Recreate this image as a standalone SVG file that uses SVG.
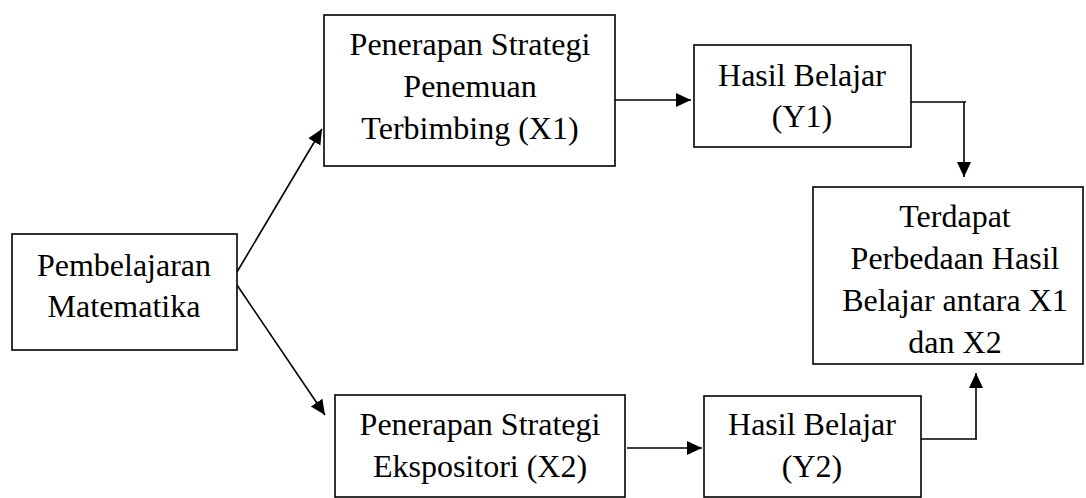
<svg xmlns="http://www.w3.org/2000/svg" width="1086" height="498" viewBox="0 0 1086 498">
<defs>
<style>
.box{fill:#fff;stroke:#000;stroke-width:1.6}
.t{font-family:"Liberation Serif","Times New Roman",serif;font-size:32px;fill:#000;text-anchor:middle}
.c{fill:none;stroke:#000;stroke-width:1.6}
</style>
<marker id="ah" markerUnits="userSpaceOnUse" markerWidth="16" markerHeight="16" refX="15" refY="7" orient="auto">
<path d="M0,0 L15,7 L0,14 z" fill="#000"/>
</marker>
</defs>
<rect width="1086" height="498" fill="#fff"/>
<g id="connectors">
<line class="c" x1="237" y1="272" x2="322" y2="129" marker-end="url(#ah)"/>
<line class="c" x1="237" y1="285" x2="325" y2="415" marker-end="url(#ah)"/>
<line class="c" x1="615" y1="100" x2="691" y2="100" marker-end="url(#ah)"/>
<polyline class="c" points="911,102 966,102"/>
<polyline class="c" points="964,102 964,177" marker-end="url(#ah)"/>
<line class="c" x1="627" y1="448" x2="702" y2="448" marker-end="url(#ah)"/>
<polyline class="c" points="921,439 977,439"/>
<polyline class="c" points="976,439 976,373" marker-end="url(#ah)"/>
</g>
<g id="pembelajaran">
<rect class="box" x="12" y="234" width="225" height="116"/>
<text class="t" x="124" y="276">Pembelajaran</text>
<text class="t" x="124" y="317">Matematika</text>
</g>
<g id="x1">
<rect class="box" x="324" y="15" width="291" height="151"/>
<text class="t" x="470" y="55">Penerapan Strategi</text>
<text class="t" x="470" y="97">Penemuan</text>
<text class="t" x="470" y="139">Terbimbing (X1)</text>
</g>
<g id="y1">
<rect class="box" x="694" y="45" width="217" height="102"/>
<text class="t" x="802" y="86">Hasil Belajar</text>
<text class="t" x="802" y="127">(Y1)</text>
</g>
<g id="hasil">
<rect class="box" x="813" y="187" width="270" height="177"/>
<text class="t" x="955" y="227">Terdapat</text>
<text class="t" x="955" y="269">Perbedaan Hasil</text>
<text class="t" x="955" y="311">Belajar antara X1</text>
<text class="t" x="955" y="353">dan X2</text>
</g>
<g id="x2">
<rect class="box" x="335" y="395" width="290" height="102"/>
<text class="t" x="480" y="435">Penerapan Strategi</text>
<text class="t" x="480" y="477">Ekspositori (X2)</text>
</g>
<g id="y2">
<rect class="box" x="704" y="396" width="217" height="101"/>
<text class="t" x="812" y="435">Hasil Belajar</text>
<text class="t" x="812" y="477">(Y2)</text>
</g>
</svg>
